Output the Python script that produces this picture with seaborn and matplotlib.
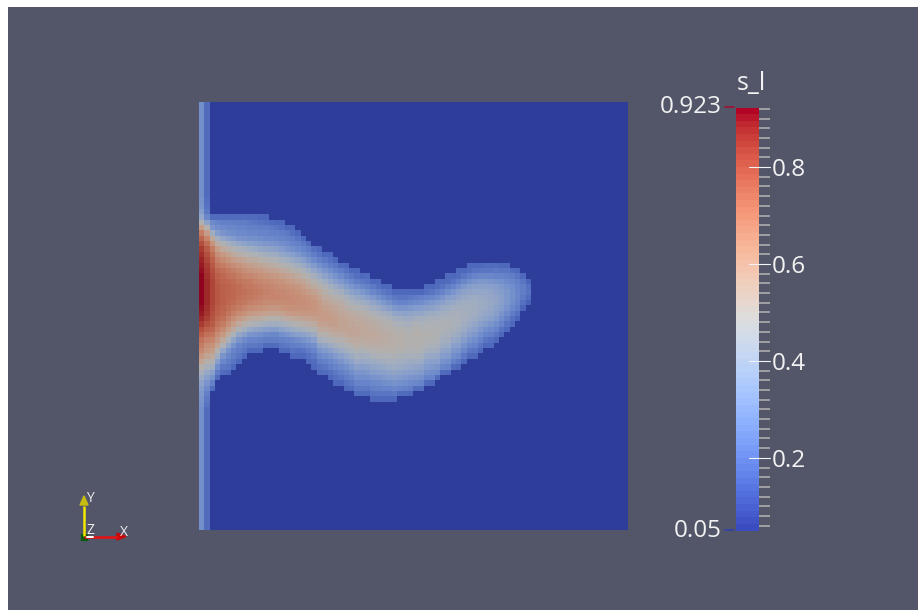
import numpy as np
import matplotlib
matplotlib.use("Agg")
import matplotlib.pyplot as plt
import seaborn as sns
from matplotlib.cm import ScalarMappable
from matplotlib.colors import ListedColormap, Normalize

# Rango de la escala y etiquetas
field_name = "s_l"
range_min = 0.05
range_max = 0.923
major_ticks = [0.2, 0.4, 0.6, 0.8]
minor_ticks = [round(0.06 + 0.02 * i, 2) for i in range(44)]

# Malla de 80x80 celdas, valores en centesimas
grid_size = 80
background = 5
wall_values = [28, 17]

plume_start = [
    18, 18, 21, 21, 21, 21, 21, 21, 21, 21, 21, 21, 21, 22, 22, 22,
    23, 23, 24, 25, 26, 27, 27, 28, 28, 29, 30, 30, 31, 31, 32, 32,
    33, 33, 34, 34, 35, 35, 35, 35, 35, 35, 34, 34, 33, 33, 32, 32,
    31, 31, 30, 30, 30, 30, 30, 30, 30, 30, 31, 31, 32, 33,
]

plume_columns = [
    [29, 30, 33, 38, 48, 60, 70, 76, 81, 85, 87, 89, 90, 91, 92, 92, 92, 92, 92, 92, 91, 90, 88, 85, 81, 77, 73, 70, 67, 62, 57, 50, 45, 40, 36, 33, 31, 30, 29],
    [18, 19, 21, 25, 36, 50, 60, 68, 74, 78, 81, 83, 85, 86, 87, 88, 88, 88, 88, 88, 87, 86, 84, 81, 77, 73, 69, 65, 62, 57, 51, 45, 39, 34, 30, 26, 23, 21, 19],
    [17, 26, 30, 42, 55, 63, 70, 74, 77, 79, 81, 82, 83, 83, 83, 83, 83, 82, 81, 80, 78, 75, 72, 68, 64, 60, 55, 48, 42, 35, 29, 23, 17],
    [17, 24, 27, 33, 44, 53, 60, 65, 69, 72, 75, 77, 78, 79, 79, 79, 79, 78, 77, 75, 73, 70, 66, 62, 57, 50, 42, 34, 27, 22, 17],
    [17, 23, 26, 30, 38, 48, 55, 61, 66, 70, 73, 75, 76, 77, 77, 77, 77, 76, 75, 73, 70, 66, 61, 55, 47, 38, 30, 25, 21, 17],
    [17, 23, 25, 28, 35, 44, 52, 58, 63, 67, 71, 73, 75, 76, 76, 76, 75, 74, 72, 69, 65, 60, 54, 46, 37, 29, 25, 22, 20, 16],
    [17, 22, 25, 27, 32, 41, 49, 55, 60, 65, 69, 72, 74, 75, 75, 75, 74, 72, 69, 65, 60, 54, 46, 37, 29, 24, 22, 20, 16],
    [17, 22, 24, 26, 30, 38, 46, 52, 58, 63, 67, 70, 72, 74, 74, 73, 72, 70, 66, 61, 55, 47, 38, 30, 24, 22, 20, 16],
    [17, 22, 24, 26, 29, 36, 44, 50, 56, 61, 65, 68, 71, 72, 73, 72, 71, 68, 64, 58, 51, 43, 34, 26, 22, 20, 16],
    [17, 21, 23, 25, 28, 34, 42, 48, 54, 59, 63, 67, 70, 71, 72, 71, 69, 66, 61, 55, 48, 39, 30, 24, 21, 16],
    [17, 20, 23, 25, 28, 33, 40, 47, 53, 58, 62, 66, 68, 70, 71, 70, 68, 65, 60, 54, 46, 37, 29, 24, 21, 16],
    [16, 19, 22, 24, 27, 32, 38, 45, 51, 56, 61, 64, 67, 69, 70, 69, 67, 64, 59, 53, 45, 36, 28, 23, 20, 16],
    [16, 18, 22, 24, 26, 31, 37, 43, 49, 55, 59, 63, 66, 68, 69, 68, 66, 63, 58, 51, 43, 34, 26, 22, 17],
    [17, 21, 23, 26, 30, 36, 42, 48, 53, 58, 62, 65, 67, 68, 68, 66, 62, 57, 50, 42, 33, 25, 22, 17],
    [16, 20, 23, 25, 29, 35, 41, 47, 52, 57, 61, 64, 66, 67, 68, 66, 62, 57, 50, 42, 33, 25, 22, 17],
    [16, 18, 22, 24, 27, 32, 38, 44, 50, 55, 59, 63, 65, 67, 67, 66, 63, 58, 52, 44, 36, 28, 23, 20, 16],
    [16, 21, 23, 26, 30, 36, 42, 48, 53, 58, 61, 64, 66, 67, 66, 64, 60, 54, 46, 38, 30, 24, 21, 16],
    [16, 18, 22, 24, 28, 34, 40, 46, 51, 56, 60, 63, 65, 66, 66, 64, 61, 55, 48, 40, 32, 25, 22, 19, 16],
    [16, 20, 23, 26, 31, 37, 43, 49, 54, 58, 62, 64, 65, 65, 64, 61, 56, 49, 42, 34, 27, 23, 18, 16],
    [16, 21, 24, 28, 34, 40, 46, 51, 56, 60, 62, 64, 65, 64, 62, 57, 51, 44, 36, 29, 24, 19, 16],
    [17, 22, 25, 30, 36, 42, 48, 53, 57, 60, 63, 64, 64, 62, 58, 52, 46, 38, 31, 26, 22, 18, 16],
    [18, 22, 26, 32, 38, 44, 50, 54, 58, 61, 63, 63, 62, 59, 54, 48, 41, 34, 28, 24, 21, 17, 16],
    [16, 19, 23, 28, 34, 40, 46, 51, 55, 58, 60, 61, 61, 60, 58, 54, 49, 43, 36, 30, 25, 22, 18, 16],
    [16, 21, 25, 30, 36, 42, 47, 51, 54, 57, 59, 60, 60, 58, 55, 50, 45, 38, 32, 27, 23, 20, 17],
    [16, 18, 22, 27, 32, 38, 44, 48, 52, 55, 58, 59, 60, 59, 56, 52, 47, 41, 35, 29, 25, 22, 18, 16],
    [16, 21, 24, 29, 34, 40, 45, 50, 53, 56, 58, 59, 59, 57, 53, 49, 44, 38, 32, 27, 24, 21, 18, 16],
    [17, 22, 26, 31, 37, 43, 48, 52, 54, 56, 57, 57, 56, 54, 50, 46, 41, 35, 30, 26, 23, 20, 16],
    [16, 19, 23, 28, 33, 39, 45, 49, 52, 55, 56, 57, 57, 55, 52, 48, 43, 38, 33, 28, 25, 22, 19, 16],
    [16, 21, 25, 30, 36, 42, 46, 50, 53, 55, 56, 57, 56, 54, 50, 46, 41, 36, 31, 27, 24, 21, 17],
    [16, 18, 22, 27, 33, 39, 44, 48, 52, 54, 55, 56, 56, 54, 52, 48, 44, 40, 35, 30, 27, 24, 21, 17],
    [16, 21, 25, 31, 37, 42, 47, 51, 53, 55, 55, 55, 53, 51, 47, 43, 39, 34, 30, 27, 24, 21, 17],
    [17, 19, 23, 28, 34, 40, 45, 49, 52, 54, 55, 55, 54, 52, 48, 44, 40, 35, 31, 27, 24, 21, 17],
    [16, 21, 25, 31, 37, 42, 47, 51, 53, 54, 55, 54, 52, 49, 46, 41, 37, 33, 29, 25, 23, 19, 16],
    [16, 18, 23, 28, 34, 40, 45, 49, 52, 53, 54, 54, 52, 50, 47, 42, 38, 34, 30, 26, 23, 20, 16],
    [16, 21, 25, 31, 37, 43, 47, 50, 52, 53, 53, 52, 50, 47, 43, 39, 35, 31, 27, 24, 20, 16],
    [16, 19, 23, 28, 35, 41, 46, 49, 51, 52, 52, 51, 50, 47, 44, 40, 36, 32, 28, 24, 20, 16],
    [16, 21, 25, 31, 38, 43, 47, 50, 51, 52, 51, 50, 47, 44, 41, 37, 33, 29, 25, 21, 16],
    [16, 20, 24, 30, 37, 42, 46, 49, 50, 51, 50, 49, 46, 43, 40, 36, 32, 28, 24, 17],
    [16, 20, 24, 30, 36, 41, 45, 48, 49, 50, 49, 48, 45, 42, 39, 35, 31, 27, 23, 17],
    [16, 21, 25, 31, 37, 41, 45, 47, 49, 49, 49, 47, 45, 41, 38, 34, 30, 26, 22, 16],
    [16, 22, 26, 32, 38, 43, 47, 49, 50, 50, 49, 48, 45, 41, 37, 33, 29, 25, 17],
    [16, 23, 27, 33, 38, 43, 46, 48, 49, 49, 48, 47, 44, 40, 36, 32, 28, 24, 17],
    [16, 18, 24, 29, 35, 40, 44, 47, 48, 49, 48, 47, 44, 40, 36, 32, 28, 24, 17],
    [16, 20, 25, 31, 36, 41, 45, 47, 48, 48, 48, 46, 43, 39, 35, 31, 27, 24, 16],
    [16, 17, 22, 27, 33, 38, 42, 45, 47, 48, 48, 47, 45, 42, 38, 34, 30, 26, 17],
    [16, 19, 24, 30, 35, 40, 43, 46, 47, 47, 46, 44, 41, 37, 33, 29, 25, 17],
    [16, 17, 22, 27, 33, 38, 41, 44, 46, 47, 46, 45, 43, 40, 36, 32, 28, 24, 16],
    [16, 19, 24, 30, 35, 39, 43, 45, 46, 46, 45, 42, 39, 35, 31, 27, 23, 17],
    [16, 17, 22, 27, 33, 37, 41, 43, 45, 45, 45, 43, 41, 38, 34, 30, 26, 21, 16],
    [16, 20, 25, 31, 36, 39, 42, 44, 44, 44, 42, 40, 37, 33, 29, 25, 21, 16],
    [16, 17, 22, 28, 33, 37, 40, 42, 43, 43, 42, 40, 37, 33, 29, 25, 21, 16],
    [16, 19, 24, 30, 35, 38, 41, 42, 42, 42, 41, 38, 35, 31, 27, 24, 20, 16],
    [16, 20, 25, 31, 35, 38, 40, 41, 41, 40, 38, 35, 31, 27, 24, 20, 16],
    [17, 20, 25, 31, 35, 38, 39, 40, 40, 38, 36, 32, 28, 24, 20, 16],
    [17, 20, 25, 30, 34, 37, 38, 39, 38, 37, 34, 30, 26, 23, 18, 16],
    [17, 21, 24, 29, 33, 35, 37, 37, 36, 34, 31, 27, 24, 20, 16],
    [16, 20, 24, 28, 31, 33, 34, 34, 33, 30, 27, 24, 19, 16],
    [16, 20, 23, 26, 29, 31, 31, 31, 29, 26, 23, 19, 16],
    [17, 22, 25, 27, 28, 28, 27, 25, 22, 18, 16],
    [16, 20, 23, 24, 25, 25, 24, 22, 18, 15],
    [16, 20, 22, 22, 21, 18, 15],
    [15, 18, 19, 17, 14],
]

# Construir la malla
grid = np.full((grid_size, grid_size), float(background))
grid[:, :len(wall_values)] = wall_values
for col, (start, values) in enumerate(zip(plume_start, plume_columns)):
    grid[start:start + len(values), col] = values
grid = grid / 100

sns.set_theme(style="white")
plt.rcParams["font.family"] = ["Open Sans", "DejaVu Sans"]

W, H = 918, 610
panel_color = "#535669"
text_color = "#f2f2f2"
fig = plt.figure(figsize=(W / 100, H / 100), dpi=100, facecolor="white")


def px_axes(x0, y0, x1, y1):
    """Ejes colocados en pixeles de la imagen."""
    return fig.add_axes([x0 / W, 1 - y1 / H, (x1 - x0) / W, (y1 - y0) / H])


# Fondo del visor
panel = px_axes(8, 7, W, H)
panel.set_facecolor(panel_color)
panel.set_xticks([])
panel.set_yticks([])
sns.despine(ax=panel, left=True, bottom=True)

# Mapa de colores con el sombreado de la escena
base_cmap = plt.get_cmap("coolwarm")
shaded = base_cmap(np.arange(256))
shaded[:, :3] = shaded[:, :3] * 0.8
mesh_cmap = ListedColormap(shaded)

ax = px_axes(199, 102, 627.5, 530)
sns.heatmap(grid, ax=ax, cmap=mesh_cmap, vmin=range_min, vmax=range_max,
            cbar=False, xticklabels=False, yticklabels=False)

# Barra de color
cax = px_axes(736, 107.5, 759, 530.5)
norm = Normalize(range_min, range_max)
sm = ScalarMappable(norm=norm, cmap=plt.get_cmap("coolwarm", 64))
cbar = fig.colorbar(sm, cax=cax, ticks=major_ticks)
cbar.outline.set_visible(False)
cbar.ax.set_yticks(minor_ticks, minor=True)
cbar.ax.set_yticklabels([str(t) for t in major_ticks])
cbar.ax.tick_params(which="major", length=0, labelcolor=text_color, labelsize=17.5,
                    pad=9, right=True, left=False)
cbar.ax.tick_params(which="minor", direction="out", length=8, width=1.1,
                    color="#b4b4b4", right=True, left=False)
# Marcas principales que entran en la barra
for t in major_ticks:
    cbar.ax.plot([0.56, 1.46], [t, t], transform=cbar.ax.get_yaxis_transform(),
                 color="#f4f4f4", lw=0.8, clip_on=False, zorder=5)

# Capa de anotaciones en pixeles
over = px_axes(0, 0, W, H)
over.set_xlim(0, W)
over.set_ylim(H, 0)
over.axis("off")
over.patch.set_alpha(0)

over.text(751, 83, field_name, color=text_color, fontsize=18, ha="center", va="center")
over.text(722, 107, "0.923", color=text_color, fontsize=17.5, ha="right", va="center")
over.text(722, 531, "0.05", color=text_color, fontsize=17.5, ha="right", va="center")
over.plot([725, 734], [107, 107], color="#a01030", lw=1.2)
over.plot([725, 734], [530, 530], color="#3040b0", lw=1.2)

# Triedro de ejes
over.plot([84, 84], [536, 506], color="#f4e800", lw=1.8, solid_capstyle="butt")
over.fill([80, 88, 84], [505, 505, 496], color="#c8bc10")
over.plot([84, 118], [536.5, 536.5], color="#e81010", lw=1.8, solid_capstyle="butt")
over.fill([117, 117, 126], [533, 540, 536.5], color="#c80808")
over.plot([87, 93], [537, 537], color="white", lw=1.4)
over.fill([81, 87, 87, 81], [534, 534, 540, 540], color="#0a5a10")
over.text(90, 498, "Y", color="#eeeeee", fontsize=10, ha="center", va="center")
over.text(124, 532, "X", color="#eeeeee", fontsize=10, ha="center", va="center")
over.text(90, 531, "Z", color="#eeeeee", fontsize=10, ha="center", va="center")

fig.savefig("out.png", dpi=100)
